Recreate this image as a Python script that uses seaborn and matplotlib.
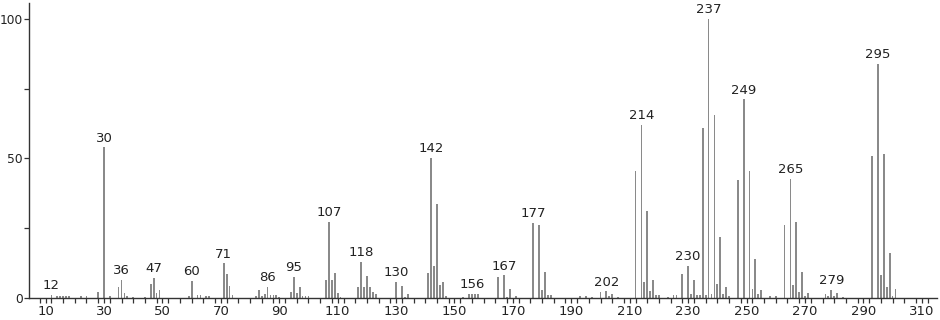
import matplotlib
matplotlib.use("Agg")
import matplotlib.pyplot as plt
import seaborn as sns
import numpy as np
import pandas as pd
from matplotlib.ticker import MultipleLocator, FixedLocator

# m/z values and relative intensities (%)
mz = [12, 14, 15, 16, 17, 18, 22, 24, 28, 30, 32, 35, 36, 37, 38, 40, 44, 46, 47, 48, 49,
      59, 60, 62, 63, 65, 66, 71, 72, 73, 74,
      82, 83, 84, 85, 86, 87, 88, 89, 90,
      94, 95, 96, 97, 98, 99, 100,
      106, 107, 108, 109, 110, 111,
      117, 118, 119, 120, 121, 122, 123,
      130, 132, 133, 134,
      141, 142, 143, 144, 145, 146, 147,
      153, 155, 156, 157, 158,
      165, 167, 168, 169, 171,
      177, 179, 180, 181, 182, 183,
      193, 195, 197, 200, 202, 203, 204, 206,
      212, 214, 215, 216, 217, 218, 219, 220,
      223, 225, 226, 228, 230, 231, 232, 233, 234,
      235, 236, 237, 238, 239, 240, 241, 242, 243, 244,
      247, 249, 251, 252, 253, 254, 255,
      258, 260,
      263, 265, 266, 267, 268, 269, 270, 271,
      277, 278, 279, 280, 281, 283,
      293, 295, 296, 297, 298, 299, 300, 301]
intensity = [1.0, 0.6, 0.8, 0.8, 0.8, 0.8, 0.6, 0.8, 2.0, 54.0, 0.7, 3.8, 6.5, 1.7, 0.7, 0.5, 0.5, 4.9, 7.3, 1.7, 2.9,
             0.8, 6.0, 1.0, 1.0, 0.8, 0.8, 12.4, 8.7, 4.3, 1.0,
             0.8, 3.0, 0.8, 1.5, 4.0, 1.0, 1.0, 1.0, 0.5,
             2.0, 7.6, 1.7, 3.9, 0.7, 0.7, 0.7,
             6.5, 27.4, 6.5, 8.9, 1.7, 0.5,
             4.0, 12.8, 3.8, 8.0, 3.8, 2.0, 1.5,
             5.9, 4.2, 0.5, 1.5,
             8.9, 50.3, 11.4, 33.7, 4.7, 5.9, 0.7,
             0.5, 1.5, 1.5, 1.5, 1.5,
             7.4, 8.1, 0.5, 3.2, 0.7,
             27.0, 26.0, 2.9, 9.4, 1.0, 1.0,
             0.7, 0.7, 0.5, 2.0, 2.4, 0.7, 1.5, 0.5,
             45.5, 62.0, 5.7, 31.0, 2.4, 6.5, 1.0, 1.0,
             0.5, 1.0, 1.0, 8.5, 11.5, 1.5, 6.5, 1.0, 1.0,
             60.8, 1.0, 100.0, 1.5, 65.6, 4.9, 21.8, 1.5, 3.8, 0.7,
             42.3, 71.2, 45.5, 3.2, 14.0, 1.5, 2.8,
             0.7, 0.8,
             26.2, 42.8, 4.5, 27.1, 2.2, 9.4, 0.8, 1.7,
             1.5, 0.8, 2.8, 0.8, 1.8, 0.5,
             51.0, 83.8, 8.1, 51.6, 4.0, 16.1, 0.8, 3.1]
labelled = [12, 30, 36, 47, 60, 71, 86, 95, 107, 118, 130, 142, 156, 167, 177,
            202, 214, 230, 237, 249, 265, 279, 295]
x_major = [10, 30, 50, 70, 90, 110, 130, 150, 170, 190, 210, 230, 250, 270, 290, 310]
y_major = [0, 50, 100]

df = pd.DataFrame({"mz": mz, "intensity": intensity})

sns.set_style("white")
plt.rcParams["font.family"] = ["DejaVu Sans"]

fig = plt.figure(figsize=(9.4, 3.2), dpi=100)
ax = fig.add_axes([29 / 940, 22 / 320, (937 - 29) / 940, (298 - 3) / 320])

sns.barplot(data=df, x="mz", y="intensity", native_scale=True, width=0.6,
            color="#8a8a8a", saturation=1, linewidth=0, errorbar=None, ax=ax)

ax.set_xlim(4.32, 315.2)
ax.set_ylim(0, 105.7)
ax.set_xlabel("")
ax.set_ylabel("")

ax.xaxis.set_major_locator(FixedLocator(x_major))
ax.xaxis.set_minor_locator(MultipleLocator(4))
ax.set_xticklabels([str(v) for v in x_major])
ax.yaxis.set_major_locator(FixedLocator(y_major))
ax.yaxis.set_minor_locator(FixedLocator([25, 75]))
ax.set_yticklabels([str(v) for v in y_major])

for s in ["top", "right"]:
    ax.spines[s].set_visible(False)
for s in ["left", "bottom"]:
    ax.spines[s].set_color("#333333")
    ax.spines[s].set_linewidth(1.0)

ax.tick_params(axis="both", which="both", direction="out", length=3.5, width=0.9,
               color="#333333", labelsize=9.5, labelcolor="#222222", pad=1.5)
ax.tick_params(axis="y", which="both", labelsize=8.8, pad=0.8)
ax.tick_params(axis="x", which="both", bottom=True)
ax.tick_params(axis="y", which="both", left=True)

lookup = dict(zip(mz, intensity))
for m in labelled:
    ax.annotate(str(m), xy=(m, lookup[m]), xytext=(0, 2), textcoords="offset points",
                ha="center", va="bottom", fontsize=9.5, color="#222222")

fig.savefig("out.png", dpi=100)
